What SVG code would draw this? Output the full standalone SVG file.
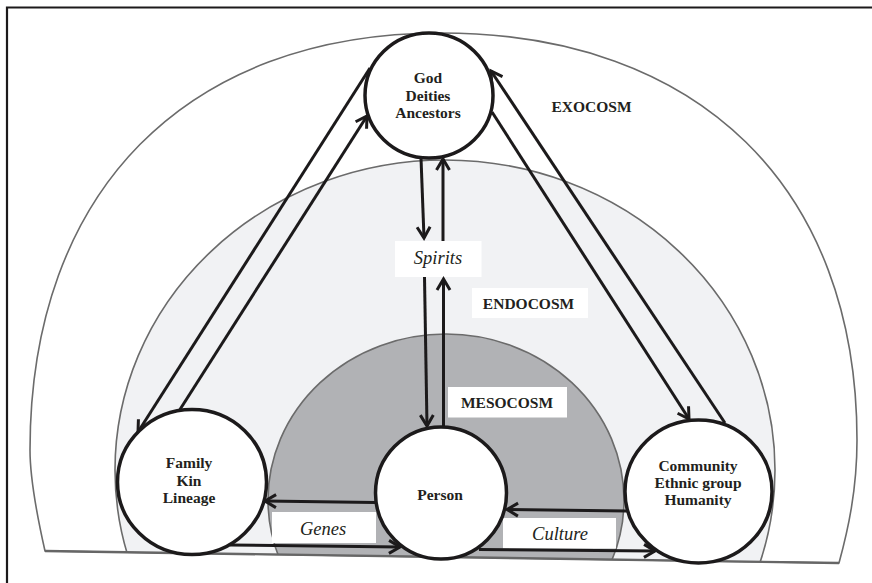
<svg xmlns="http://www.w3.org/2000/svg" width="872" height="583" viewBox="0 0 872 583">
<style>
.arch{stroke:#6b6b6b;stroke-width:1.6}
.node{fill:#fff;stroke:#1c1a1b;stroke-width:3.5}
.lbl{font-family:"Liberation Serif","Times New Roman",serif;font-weight:bold;font-size:15.5px;fill:#231f20;text-anchor:middle}
.it{font-family:"Liberation Serif","Times New Roman",serif;font-style:italic;font-size:18.5px;fill:#231f20;text-anchor:middle}
.box{fill:#fff}
.conn line{stroke:#1c1a1b;stroke-width:3;marker-end:url(#ah)}
</style>
<defs>
<marker id="ah" markerUnits="userSpaceOnUse" markerWidth="18" markerHeight="18" viewBox="-14 -9 18 18" refX="0" refY="0" orient="auto">
<path d="M-11,-6.5 L0,0 L-11,6.5" fill="none" stroke="#1c1a1b" stroke-width="3"/>
</marker>
<clipPath id="above">
<polygon points="0,0 872,0 872,563.5 0,550.3"/>
</clipPath>
</defs>
<rect width="872" height="583" fill="#fff"/>
<path d="M7,583 V7.5 H872" fill="none" stroke="#1c1a1b" stroke-width="2.2"/>
<g id="exocosm">
<path class="arch" fill="#fff" d="M45,551 C38,520 30,480 30,450 C30,191.5 186,33 441,33 C699,33 857,188 857,440 C857,490 848,530 839,563 Z"/>
</g>
<g id="endocosm" clip-path="url(#above)">
<ellipse class="arch" cx="445" cy="470" rx="330" ry="310" fill="#f1f2f4"/>
</g>
<g id="mesocosm" clip-path="url(#above)">
<ellipse class="arch" cx="446" cy="500" rx="178" ry="166" fill="#b1b2b5"/>
</g>
<line x1="45" y1="551" x2="839" y2="563" stroke="#666" stroke-width="2.4"/>
<g id="labels">
<text class="lbl" x="591.5" y="111.5">EXOCOSM</text>
<rect class="box" x="472" y="288" width="116" height="30"/>
<text class="lbl" x="528.5" y="308.5">ENDOCOSM</text>
<rect class="box" x="448" y="387" width="119" height="30.5"/>
<text class="lbl" x="507" y="408">MESOCOSM</text>
<rect class="box" x="395" y="241" width="86.5" height="36"/>
<text class="it" x="438" y="263.5">Spirits</text>
<rect class="box" x="272" y="512" width="104" height="31"/>
<text class="it" x="323" y="535">Genes</text>
<rect class="box" x="503" y="518" width="113" height="30.5"/>
<text class="it" x="560" y="540">Culture</text>
</g>
<g id="connectors" class="conn">
<line x1="370" y1="68" x2="138" y2="432"/>
<line x1="179" y1="411" x2="367" y2="116"/>
<line x1="492" y1="112" x2="689" y2="419"/>
<line x1="725" y1="423" x2="491" y2="71"/>
<line x1="421" y1="158" x2="424" y2="238"/>
<line x1="424.5" y1="277" x2="427" y2="426"/>
<line x1="443.5" y1="427" x2="443.5" y2="279"/>
<line x1="443" y1="241" x2="443" y2="159"/>
<line x1="375" y1="502.5" x2="265" y2="501"/>
<line x1="230" y1="545" x2="400" y2="547"/>
<line x1="627" y1="511" x2="507" y2="509.5"/>
<line x1="479" y1="549.5" x2="655" y2="551"/>
</g>
<g id="god">
<ellipse class="node" cx="429" cy="95.5" rx="64" ry="62.5"/>
<text class="lbl" x="428" y="83">God</text>
<text class="lbl" x="428" y="100.5">Deities</text>
<text class="lbl" x="428" y="118">Ancestors</text>
</g>
<g id="family">
<ellipse class="node" cx="192" cy="482" rx="74.5" ry="72.5"/>
<text class="lbl" x="189" y="468">Family</text>
<text class="lbl" x="189" y="485.5">Kin</text>
<text class="lbl" x="189" y="503">Lineage</text>
</g>
<g id="person">
<ellipse class="node" cx="441" cy="493" rx="65.5" ry="66"/>
<text class="lbl" x="440" y="499.5">Person</text>
</g>
<g id="community">
<ellipse class="node" cx="698.5" cy="491.5" rx="73.5" ry="71.5"/>
<text class="lbl" x="698" y="470.5">Community</text>
<text class="lbl" x="698" y="488">Ethnic group</text>
<text class="lbl" x="698" y="505">Humanity</text>
</g>
</svg>
